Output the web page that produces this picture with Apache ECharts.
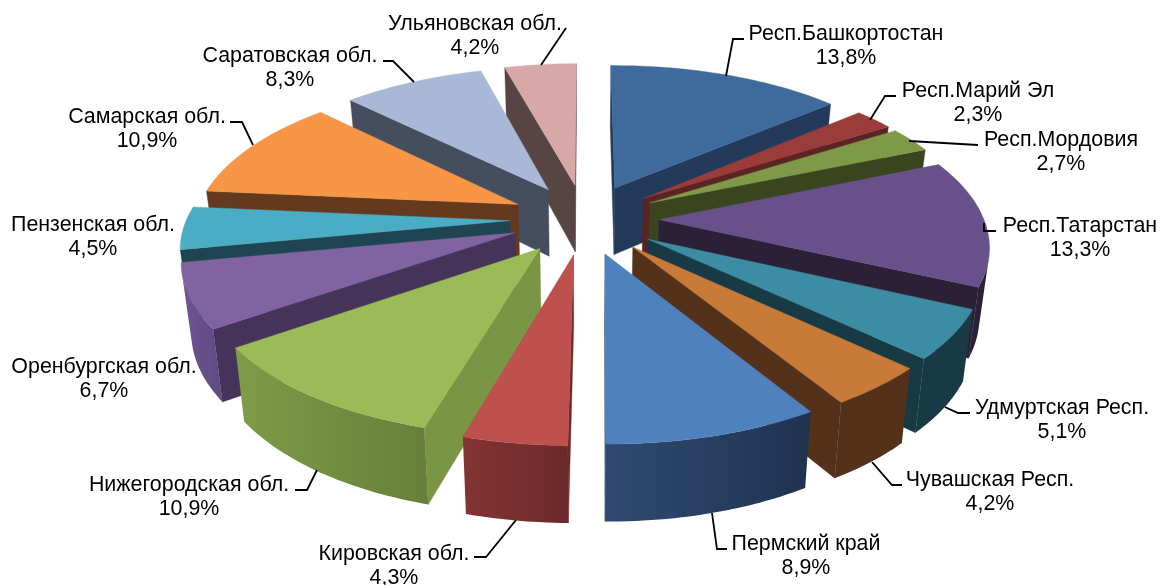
<!DOCTYPE html>
<html><head><meta charset="utf-8">
<style>html,body{margin:0;padding:0;background:#fff}#c{width:1161px;height:585px}</style>
<script src="https://cdn.jsdelivr.net/npm/echarts@6/dist/echarts.min.js"></script>
</head><body><div id="c"></div>
<script>
const categories = ['Респ.Башкортостан','Респ.Марий Эл','Респ.Мордовия','Респ.Татарстан','Удмуртская Респ.','Чувашская Респ.','Пермский край','Кировская обл.','Нижегородская обл.','Оренбургская обл.','Пензенская обл.','Самарская обл.','Саратовская обл.','Ульяновская обл.'];
const values = [13.8,2.3,2.7,13.3,5.1,4.2,8.9,4.3,10.9,6.7,4.5,10.9,8.3,4.2];

// styles (per slice)
const topColors = ['#3E6A9C','#9A3D3A','#7E9A48','#68508A','#3C8CA3','#C87A38','#4F81BD','#BE504D','#9BBB59','#8064A2','#4BACC6','#F79646','#A8B8D6','#D7A8A8'];
const radialColors = ['#233A5A','#5A2422','#3A451F','#2B2136','#183A45','#53311A','#1F3350','#6C2A2A','#7A9645','#45335A','#1F4552','#643A1E','#454E5E','#574543'];
const arcFrom = ['#233A5A','#5A2422','#3A451F','#2B2136','#183A45','#53311A','#2F4A70','#833432','#7E9C48','#6E5494','#1F4552','#643A1E','#454E5E','#574543'];
const arcTo   = ['#233A5A','#5A2422','#3A451F','#2B2136','#183A45','#53311A','#1F3350','#6C2A2A','#667F3A','#5F4A82','#1F4552','#643A1E','#454E5E','#574543'];

// projection of the tilted, exploded pie
const view = {cx:584.5, cy:219, A:324, B:149.5, p:0.151, H:68, q:0.1, explode:0.23, explodeY:0.235, shrink:0.975, roll:0.004, shear:0.015};

// label layout: text block centre, then leader polyline
const labelCentres = [[846,46],[978,103],[1061,152],[1080,238],[1062,420],[990,492],[806,556],[394,566],[189,497],[104,379],[93,237],[147,129],[290,68],[475,36]];
const leaders = [
 [[726,76],[733,39],[744,39]],
 [[870,120],[885,96],[896,96]],
 [[909,141],[978,145]],
 [[984,223],[984,231],[996,231]],
 [[945,407],[958,413],[970,413]],
 [[872,462],[892,485],[902,485]],
 [[712,513],[717,549],[727,549]],
 [[516,520],[486,557],[474,557]],
 [[317,470],[307,490],[295,490]],
 null,
 null,
 [[253,145],[242,122],[230,122]],
 [[414,82],[393,61],[383,61]],
 [[541,65],[566,28]]
];

const total = values.reduce((a,b)=>a+b,0);
let acc = 0;
const slices = values.map(v=>{const a0=acc/total*2*Math.PI; acc+=v; const a1=acc/total*2*Math.PI; return {a0,a1,mid:(a0+a1)/2};});

function project(sl,a,r,wall){
  const X=r*Math.sin(a)+view.explode*Math.sin(sl.mid);
  const Y=r*Math.cos(a)+view.explodeY*Math.cos(sl.mid);
  const s=1/(1+view.p*Y);
  let dx=view.A*X*s;
  let y=view.cy-view.B*Y*s-view.roll*dx;
  const skew=view.shear*Math.max(0,y-view.cy);
  if(wall){ y+=view.H/(1+view.q*Y); dx*=view.shrink; }
  return [view.cx+dx+skew,y];
}
function area(pts){let t=0;for(let i=0;i<pts.length;i++){const a=pts[i],b=pts[(i+1)%pts.length];t+=a[0]*b[1]-b[0]*a[1];}return t;}
function poly(points,fill){return {type:'polygon',shape:{points},style:{fill,stroke:fill,lineWidth:0.4}};}

function renderSlice(params,api){
  const i=api.value(0), sl=slices[i], n=Math.max(4,Math.ceil((sl.a1-sl.a0)/0.02));
  const arcT=[],arcB=[];
  for(let k=0;k<=n;k++){const a=sl.a0+(sl.a1-sl.a0)*k/n;arcT.push(project(sl,a,1,false));arcB.push(project(sl,a,1,true));}
  const apexT=project(sl,0,0,false), apexB=project(sl,0,0,true);
  const children=[];
  const startQ=[apexT,arcT[0],arcB[0],apexB];
  if(area(startQ)<0) children.push(poly(startQ,radialColors[i]));
  const endQ=[arcT[n],apexT,apexB,arcB[n]];
  if(area(endQ)<0) children.push(poly(endQ,radialColors[i]));
  let run=[];
  for(let k=0;k<n;k++){
    const front=area([arcT[k],arcT[k+1],arcB[k+1],arcB[k]])<0;
    if(front) run.push(k);
  }
  if(run.length){
    const f=run[0],l=run[run.length-1]+1;
    const pts=arcT.slice(f,l+1).concat(arcB.slice(f,l+1).reverse());
    const grad=new echarts.graphic.LinearGradient(0,0,1,0,[{offset:0,color:arcFrom[i]},{offset:1,color:arcTo[i]}]);
    children.push({type:'polygon',shape:{points:pts},style:{fill:grad}});
  }
  children.push(poly([apexT].concat(arcT),topColors[i]));
  return {type:'group',children};
}
function renderLabel(params,api){
  const i=api.value(0), c=labelCentres[i], children=[];
  if(leaders[i]) children.push({type:'polyline',shape:{points:leaders[i]},style:{stroke:'#000',lineWidth:1.8,fill:null}});
  children.push({type:'text',x:c[0],y:c[1],style:{
    text:categories[i]+'\n'+String(values[i]).replace('.',',')+'%',
    x:0,y:0,align:'center',verticalAlign:'middle',fill:'#000',
    font:'21.4px "Liberation Sans", Arial, sans-serif',lineHeight:24.5}});
  return {type:'group',children};
}
// painter's order: farthest slice first
const order = values.map((v,i)=>i).sort((a,b)=>Math.cos(slices[b].mid)-Math.cos(slices[a].mid));

const chart=echarts.init(document.getElementById('c'),null,{renderer:'canvas'});
chart.setOption({
  animation:false,
  backgroundColor:'#fff',
  series:[
    {type:'custom',name:'slices',coordinateSystem:'none',data:order.map(i=>[i]),renderItem:renderSlice,silent:true,z:2},
    {type:'custom',name:'labels',coordinateSystem:'none',data:values.map((v,i)=>[i]),renderItem:renderLabel,silent:true,z:3}
  ]
});
</script></body></html>
